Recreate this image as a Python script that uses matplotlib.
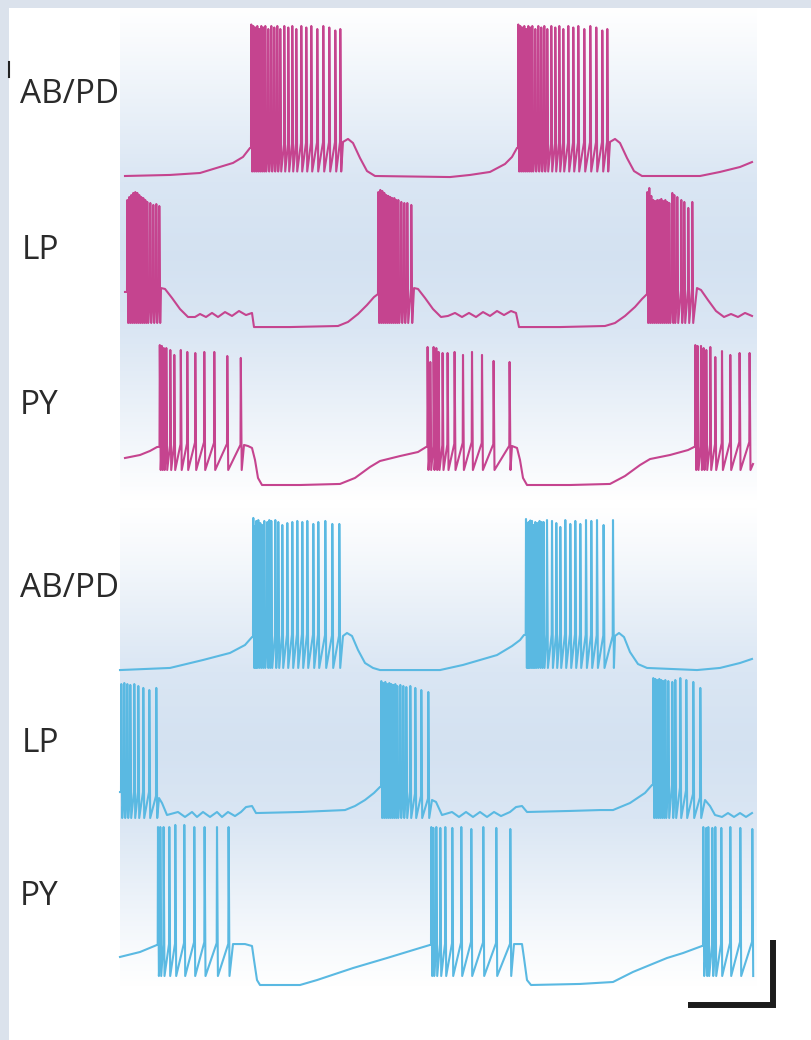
import numpy as np
import matplotlib
matplotlib.use('Agg')
import matplotlib.pyplot as plt
from matplotlib.patches import Rectangle

# time in ms, membrane potential in mV
# ---- upper circuit (magenta) ----
ABPD1_BASE_T = [50, 500, 800, 1130, 1230, 1300, 1800, 2230, 2280, 2330, 2400, 2470, 2550, 3300, 3500,
                3700, 3850, 3920, 3970, 4400, 4900, 4950, 5000, 5070, 5140, 5220, 5800, 6000, 6200, 6320]
ABPD1_BASE_V = [-60, -59.3, -58, -51.3, -47.3, -41.3, -38, -37.3, -35.3, -38, -48, -56.7, -60, -60.7, -59.3,
                -57.3, -52, -47.3, -41.3, -38, -37.3, -35.3, -38, -48, -56.7, -60, -60, -57.3, -54, -50.7]
ABPD1_SPK_T = [[1310, 1330, 1350, 1370, 1390, 1410, 1430, 1450, 1480, 1510, 1540, 1570, 1600, 1640, 1680,
                1720, 1760, 1810, 1860, 1910, 1970, 2030, 2090, 2150, 2200],
               [3980, 4000, 4020, 4040, 4060, 4080, 4100, 4120, 4150, 4180, 4210, 4240, 4270, 4310, 4350,
                4390, 4430, 4480, 4530, 4580, 4640, 4700, 4760, 4820, 4870]]
ABPD1_SPK_V = [[41, 40, 39, 40, 38, 40, 39, 40, 38, 40, 39, 40, 38, 40, 39, 40, 38, 40, 39, 40, 38, 40, 39,
                37, 38],
               [41, 40, 39, 40, 38, 40, 39, 40, 38, 40, 39, 40, 38, 40, 39, 40, 38, 40, 39, 40, 38, 40, 39,
                37, 38]]
ABPD1_TROUGH = -57

LP1_BASE_T = [50, 250, 410, 450, 520, 600, 680, 750, 800, 860, 920, 980, 1050, 1120, 1190, 1260, 1320,
              1340, 1700, 2180, 2280, 2380, 2470, 2540, 2580, 2750, 2940, 2980, 3050, 3130, 3210, 3280,
              3350, 3420, 3490, 3560, 3630, 3700, 3770, 3840, 3910, 3960, 3990, 4400, 4850, 4950, 5050,
              5150, 5220, 5270, 5500, 5770, 5810, 5880, 5960, 6040, 6110, 6180, 6250, 6320]
LP1_BASE_V = [-37.3, -37.3, -34.7, -35.3, -41.3, -48.7, -54, -54, -52, -54, -51.3, -54, -50.7, -53.3, -50,
              -52.7, -51.3, -60.7, -60.7, -60, -57.3, -52, -46, -40.7, -38.7, -37.3, -34.7, -35.3, -41.3,
              -48.7, -54, -53.3, -51.3, -54, -51.3, -54, -50.7, -53.3, -50, -52.7, -50, -51.3, -60.7,
              -60.7, -60, -58, -53.3, -47.3, -42, -38.7, -37.3, -34.7, -36, -42.7, -50, -54, -52, -54,
              -51.3, -53.3]
LP1_SPK_T = [[70, 90, 110, 130, 150, 170, 190, 210, 230, 250, 270, 300, 330, 360, 390],
             [2580, 2600, 2620, 2640, 2660, 2680, 2700, 2720, 2740, 2760, 2780, 2810, 2840, 2870, 2910],
             [5270, 5290, 5310, 5330, 5350, 5370, 5390, 5410, 5430, 5450, 5470, 5490, 5520, 5540, 5570,
              5610, 5640, 5680, 5720]]
LP1_SPK_V = [[24, 26, 27.3, 28.7, 29.3, 28.7, 27.3, 26, 25.3, 24, 22.7, 22, 20.7, 21.3, 20],
             [29.3, 30.7, 30, 28.7, 27.3, 26.7, 26, 25.3, 25.3, 24, 24, 22.7, 22, 22, 20.7],
             [29.3, 32, 26.7, 24, 23.3, 24, 24, 24.7, 23.3, 24, 22.7, 22, 28.7, 27.3, 26, 24, 22.7,
              18.7, 22.7]]
LP1_TROUGH = -58

PY1_BASE_T = [50, 200, 300, 370, 800, 1240, 1280, 1320, 1350, 1380, 1420, 1800, 2200, 2350, 2500, 2600,
              2800, 2980, 3060, 3500, 3920, 3970, 4000, 4030, 4070, 4500, 4900, 5050, 5200, 5300, 5500,
              5680, 5740, 6100, 6300, 6330]
PY1_BASE_V = [-42, -40, -37.3, -34.7, -31.3, -33.3, -34, -35.3, -43.3, -55.3, -60, -60, -59.3, -55.3, -48,
              -44, -40.7, -38, -34.7, -31.3, -34, -35.3, -43.3, -55.3, -60, -60, -59.3, -54, -46.7,
              -42.7, -40, -36.7, -34.7, -31.3, -31.3, -46]
PY1_SPK_T = [[395, 415, 435, 460, 500, 540, 605, 670, 750, 840, 940, 1070, 1205],
             [3073, 3100, 3133, 3160, 3183, 3223, 3273, 3343, 3427, 3517, 3617, 3733, 3893],
             [5750, 5773, 5807, 5833, 5860, 5900, 5950, 6017, 6100, 6193, 6293]]
PY1_SPK_V = [[33.3, 32.7, 31.3, 31.3, 30, 26.7, 30, 28.7, 28, 28.7, 28.7, 26, 24.7],
             [32, 22, 32, 31.3, 28.7, 28, 28, 28.7, 26.7, 28.7, 26.7, 22.7, 22],
             [33.3, 32.7, 32.7, 31.3, 30, 32, 25.3, 29.3, 26.7, 28, 28]]
PY1_TROUGH = -50

# ---- lower circuit (cyan) ----
ABPD2_BASE_T = [0, 500, 830, 1100, 1250, 1320, 1800, 2230, 2270, 2320, 2380, 2450, 2530, 2600, 3200, 3430,
                3600, 3770, 3920, 4000, 4040, 4500, 4950, 4990, 5040, 5100, 5180, 5270, 5770, 6000, 6200,
                6320]
ABPD2_BASE_V = [-60.7, -59.3, -54, -49.3, -44, -38.7, -36.7, -38, -36, -38, -47.3, -56, -59.3, -60.7,
                -60.7, -57.3, -54, -50.7, -44.7, -40.7, -37.3, -36.7, -38, -36, -38.7, -48.7, -56.7,
                -59.3, -60.7, -59.3, -56, -53.3]
ABPD2_SPK_T = [[1330, 1345, 1360, 1380, 1400, 1420, 1440, 1470, 1490, 1510, 1550, 1580, 1620, 1670, 1720,
                1770, 1820, 1870, 1930, 1980, 2050, 2120, 2190],
               [4057, 4070, 4083, 4100, 4117, 4133, 4150, 4170, 4193, 4213, 4233, 4267, 4317, 4360, 4400,
                4450, 4500, 4550, 4600, 4657, 4710, 4767, 4833, 4927]]
ABPD2_SPK_V = [[40.7, 35.3, 38.7, 39.3, 37.3, 36, 38.7, 38, 39.3, 38.7, 39.3, 38, 36, 37.3, 38, 38.7, 38,
                38.7, 36.7, 38, 38.7, 36.7, 36.7],
               [40, 37, 38, 39, 38.7, 36, 38, 37.3, 38.7, 38, 38, 39.3, 38.7, 37.3, 34.7, 39.3, 36.7,
                38.7, 36.7, 39.3, 38.7, 39.3, 36, 39.3]]
ABPD2_TROUGH = -59.3

LP2_BASE_T = [0, 300, 390, 420, 470, 580, 650, 720, 770, 830, 900, 970, 1020, 1080, 1150, 1210, 1260,
              1320, 1360, 1800, 2250, 2350, 2450, 2540, 2600, 2800, 3120, 3160, 3220, 3320, 3390, 3460,
              3530, 3600, 3670, 3740, 3810, 3900, 3960, 4020, 4070, 4500, 4800, 4930, 5100, 5250, 5320,
              5550, 5850, 5900, 5950, 6020, 6080, 6140, 6200, 6260, 6320]
LP2_BASE_V = [-44.7, -44.7, -48.7, -52, -60, -58, -61.3, -58, -61.3, -58, -61.3, -58, -61.3, -58, -60.7,
              -58, -54.7, -54, -58.7, -58, -56.7, -54, -50, -45.3, -41.3, -42, -50, -51.3, -60, -58,
              -61.3, -58, -61.3, -58, -61.3, -58, -60.7, -58, -54.7, -54, -58, -57.3, -56.7, -56.7, -52,
              -45.3, -40, -40, -50, -54, -60, -61.3, -58.7, -61.3, -58.7, -61.3, -58.7]
LP2_SPK_T = [[10, 40, 70, 100, 140, 180, 230, 290, 360],
             [2610, 2630, 2650, 2670, 2690, 2710, 2730, 2750, 2770, 2800, 2830, 2860, 2900, 2950, 3010,
              3080],
             [5330, 5350, 5370, 5390, 5410, 5430, 5450, 5480, 5520, 5550, 5600, 5660, 5730, 5800]]
LP2_SPK_V = [[27.3, 28, 27.3, 26.7, 27.3, 26, 24.7, 23.3, 24.7],
             [29.3, 28, 28.7, 27.3, 28, 27.3, 26.7, 27.3, 26, 26.7, 26, 25.3, 26, 24.7, 23.3, 22],
             [31.3, 30.7, 30, 30.7, 30, 29.3, 30, 29.3, 28.7, 30, 31.3, 30, 28.7, 24.7]]
LP2_TROUGH = -62

PY2_BASE_T = [0, 200, 370, 800, 1130, 1250, 1320, 1340, 1370, 1400, 1800, 1970, 2330, 2670, 3000, 3100,
              3500, 3940, 4020, 4040, 4070, 4110, 4600, 4930, 5130, 5470, 5630, 5820, 6200]
PY2_BASE_V = [-41.3, -38, -33.3, -31.3, -32.7, -32.7, -34, -43.3, -56.7, -60, -60, -56.7, -48.7, -42,
              -35.3, -33.3, -31.3, -32.7, -32.7, -42, -56.7, -60, -59.3, -58, -51.3, -42, -38.7, -34,
              -31.3]
PY2_SPK_T = [[377, 400, 433, 490, 550, 640, 740, 843, 967, 1083],
             [3110, 3130, 3160, 3200, 3250, 3320, 3410, 3510, 3630, 3760, 3900],
             [5830, 5860, 5880, 5920, 5950, 6010, 6100, 6200, 6320]]
PY2_SPK_V = [[45.3, 45.3, 45.3, 45.3, 46.7, 46.7, 45.3, 45.3, 45.3, 45.3],
             [45.3, 44.7, 45.3, 44.7, 45.3, 44.7, 45.3, 44, 45.3, 44.7, 44],
             [45.3, 44.7, 45.3, 44.7, 45.3, 44.7, 45.3, 44.7, 44]]
PY2_TROUGH = -54

LABELS = ['AB/PD', 'LP', 'PY', 'AB/PD', 'LP', 'PY']
SCALE_MS = 850
SCALE_MV = 43

# ---- layout ----
W, H = 812, 1040
PX_PER_MV = 1.5
PANEL_X0, PANEL_X1 = 120, 757
T_MAX = (PANEL_X1 - PANEL_X0) * 10
ROW_REF = [176, 326, 485, 669, 815, 985]          # pixel row of -60 mV for each trace
LABEL_POS = [(20, 103), (22, 259), (20, 414), (20, 597), (22, 752), (20, 905)]
MAGENTA = '#c5448f'
CYAN = '#5ab9e2'
GRAD_Y = [8, 60, 180, 255, 330, 450, 500, 508, 560, 670, 745, 820, 930, 986]
GRAD_S = [0.0, 0.25, 0.85, 1.0, 0.85, 0.25, 0.0, 0.0, 0.25, 0.85, 1.0, 0.85, 0.25, 0.0]

UP, DOWN = 3, 12


def build(base_t, base_v, spk_t, spk_v, trough):
    base_t = np.asarray(base_t, float)
    base_v = np.asarray(base_v, float)
    spans = [(b[0], b[-1] + DOWN) for b in spk_t]
    pts = []
    for t, v in zip(base_t, base_v):
        if not any(a <= t <= b for a, b in spans):
            pts.append((t, v))
    for ts, vs in zip(spk_t, spk_v):
        for t, pk in zip(ts, vs):
            b = np.interp(t, base_t, base_v)
            pts += [(t, b), (t + UP, pk), (t + DOWN, trough)]
    pts.sort()
    return np.array(pts).T


rows = [
    (ABPD1_BASE_T, ABPD1_BASE_V, ABPD1_SPK_T, ABPD1_SPK_V, ABPD1_TROUGH, MAGENTA),
    (LP1_BASE_T, LP1_BASE_V, LP1_SPK_T, LP1_SPK_V, LP1_TROUGH, MAGENTA),
    (PY1_BASE_T, PY1_BASE_V, PY1_SPK_T, PY1_SPK_V, PY1_TROUGH, MAGENTA),
    (ABPD2_BASE_T, ABPD2_BASE_V, ABPD2_SPK_T, ABPD2_SPK_V, ABPD2_TROUGH, CYAN),
    (LP2_BASE_T, LP2_BASE_V, LP2_SPK_T, LP2_SPK_V, LP2_TROUGH, CYAN),
    (PY2_BASE_T, PY2_BASE_V, PY2_SPK_T, PY2_SPK_V, PY2_TROUGH, CYAN),
]

fig = plt.figure(figsize=(W / 100, H / 100), dpi=100)
fig.patch.set_facecolor('white')

# background: gradient panel, textured frame, row labels
bg = fig.add_axes([0, 0, 1, 1])
ys = np.arange(GRAD_Y[0], GRAD_Y[-1])
s = np.interp(ys, GRAD_Y, GRAD_S)[:, None, None]
blue = np.array([0.83, 0.885, 0.947])
img = (1 - s) * np.ones(3) + s * blue
bg.imshow(img, extent=(PANEL_X0, PANEL_X1, GRAD_Y[-1], GRAD_Y[0]), aspect='auto',
          interpolation='bilinear')
bg.add_patch(Rectangle((0, 0), W, 8, color='#dbe2ec', lw=0))
bg.add_patch(Rectangle((0, 0), 9, H, color='#dbe2ec', lw=0))
bg.plot([9.5, 9.5], [62, 77], color='#222222', lw=1.5)
bg.set_xlim(0, W)
bg.set_ylim(H, 0)
bg.axis('off')

for lab, (lx, ly) in zip(LABELS, LABEL_POS):
    bg.text(lx, ly, lab, fontsize=24, color='#2a2a2a', va='baseline', ha='left',
            family=['Open Sans', 'DejaVu Sans'])

# traces
ax = fig.add_axes([PANEL_X0 / W, 0, (PANEL_X1 - PANEL_X0) / W, 1])
ax.set_xlim(0, T_MAX)
ax.set_ylim(-H / PX_PER_MV, 0)
ax.axis('off')
ax.patch.set_alpha(0)

for (bt, bv, st, sv, tr, col), ref in zip(rows, ROW_REF):
    t, v = build(bt, bv, st, sv, tr)
    off = 60 - ref / PX_PER_MV
    ax.plot(t, v + off, color=col, lw=1.5, clip_on=False)

# scale bar
corner_t = T_MAX + 160
corner_v = -1005 / PX_PER_MV
ax.plot([corner_t - SCALE_MS, corner_t, corner_t], [corner_v, corner_v, corner_v + SCALE_MV],
        color='#1c1c1c', lw=4.3, solid_joinstyle='miter', solid_capstyle='butt', clip_on=False)

fig.savefig('out.png', dpi=100)
